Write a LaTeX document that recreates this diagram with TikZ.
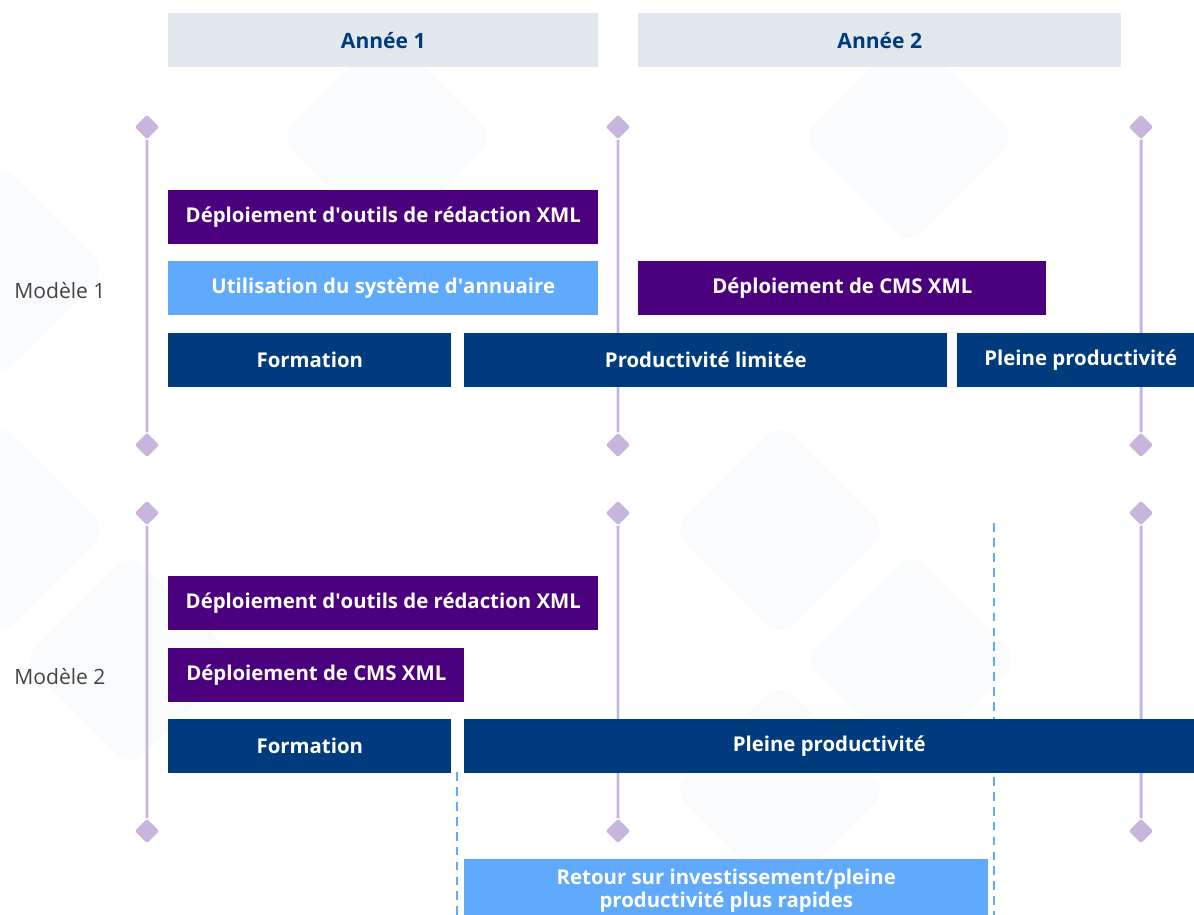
\documentclass[tikz,border=0pt]{standalone}
\usepackage{fontspec}
\setmainfont{Open Sans}

\definecolor{navy}{HTML}{003C7D}
\definecolor{indigo}{HTML}{4B007E}
\definecolor{sky}{HTML}{5FAAFC}
\definecolor{header}{HTML}{E3E8EF}
\definecolor{lilac}{HTML}{C8B4DC}
\definecolor{labelgray}{HTML}{444444}
\definecolor{tilegray}{HTML}{FAFBFD}

\tikzstyle{bar}=[rectangle,
                                    anchor=north west,
                                    inner sep=0pt,
                                    minimum height=1.07cm,
                                    text=white,
                                    font=\bfseries\fontsize{11.6}{14}\selectfont]
\tikzstyle{training}=[bar,
                                    fill=navy]
\tikzstyle{deploy}=[bar,
                                    fill=indigo]
\tikzstyle{usage}=[bar,
                                    fill=sky]
\tikzstyle{year}=[rectangle,
                                    anchor=north west,
                                    inner sep=0pt,
                                    minimum height=1.08cm,
                                    fill=header,
                                    text=navy,
                                    font=\bfseries\fontsize{12}{14}\selectfont]
\tikzstyle{marker}=[rectangle,
                                    rotate=45,
                                    inner sep=0pt,
                                    minimum size=0.34cm,
                                    rounded corners=0.8pt,
                                    fill=lilac]
\tikzstyle{model}=[anchor=west,
                                    inner sep=0pt,
                                    text=labelgray,
                                    font=\fontsize{12}{14}\selectfont]
\tikzstyle{tile}=[rectangle,
                                    rotate=45,
                                    inner sep=0pt,
                                    minimum size=3.06cm,
                                    rounded corners=0.4cm,
                                    fill=tilegray]
\tikzstyle{timeline}=[draw=lilac,
                                    line width=1.7pt]
\tikzstyle{milestone}=[draw=sky,
                                    line width=1.4pt,
                                    dash pattern=on 5pt off 3.5pt]

\begin{document}
\begin{tikzpicture}[x=0.02cm,y=-0.02cm]
  % one unit is one pixel of the original chart, y runs downwards
  \useasboundingbox (0,0) rectangle (1194,915);
  \clip (0,0) rectangle (1194,915);

  % Faint tiles in the background
  \node (tile_1) [tile] at (0,270) {};
  \node (tile_2) [tile] at (0,530) {};
  \node (tile_3) [tile] at (130,660) {};
  \node (tile_4) [tile] at (387,137) {};
  \node (tile_5) [tile] at (909,138) {};
  \node (tile_6) [tile] at (780,530) {};
  \node (tile_7) [tile] at (911,660) {};
  \node (tile_8) [tile] at (780,790) {};

  % Year headers
  \node (Year_1) [year, minimum width=8.6cm] at (168,13) {Année 1};
  \node (Year_2) [year, minimum width=9.66cm] at (638,13) {Année 2};

  % Milestones of the first model
  \node (M1top_0) [marker] at (147,127) {};
  \node (M1top_1) [marker] at (618,127) {};
  \node (M1top_2) [marker] at (1141,127) {};
  \node (M1bot_0) [marker] at (147,445) {};
  \node (M1bot_1) [marker] at (618,445) {};
  \node (M1bot_2) [marker] at (1141,445) {};

  % Milestones of the second model
  \node (M2top_0) [marker] at (147,513) {};
  \node (M2top_1) [marker] at (618,513) {};
  \node (M2top_2) [marker] at (1141,513) {};
  \node (M2bot_0) [marker] at (147,831) {};
  \node (M2bot_1) [marker] at (618,831) {};
  \node (M2bot_2) [marker] at (1141,831) {};

  % Time lines between the milestones
  \path[timeline]
        (M1top_0) edge (M1bot_0)
        (M1top_1) edge (M1bot_1)
        (M1top_2) edge (M1bot_2)
        (M2top_0) edge (M2bot_0)
        (M2top_1) edge (M2bot_1)
        (M2top_2) edge (M2bot_2)
        ;

  % Dashed limits of the return on investment
  \coordinate (ROI_start_top) at (457,772);
  \coordinate (ROI_start_bot) at (457,915);
  \coordinate (ROI_end_top) at (994,523);
  \coordinate (ROI_end_bot) at (994,915);
  \draw[milestone] (ROI_start_top) -- (ROI_start_bot);
  \draw[milestone] (ROI_end_top) -- (ROI_end_bot);

  % Model labels
  \node (Model_1) [model] at (14,291) {Modèle 1};
  \node (Model_2) [model] at (14,677) {Modèle 2};

  % First model
  \node (XMLtools_1) [deploy, minimum width=8.6cm] at (168,190) {Déploiement d\textquotesingle outils de rédaction XML};
  \node (Directory_1) [usage, minimum width=8.6cm] at (168,261) {Utilisation du système d\textquotesingle annuaire};
  \node (CMS_1) [deploy, minimum width=8.16cm] at (638,261) {Déploiement de CMS XML};
  \node (Training_1) [training, minimum width=5.66cm] at (168,333) {Formation};
  \node (Limited_1) [training, minimum width=9.66cm] at (464,333) {Productivité limitée};
  \node (Full_1) [training, minimum width=4.94cm] at (957,333) {Pleine productivité};

  % Second model
  \node (XMLtools_2) [deploy, minimum width=8.6cm] at (168,576) {Déploiement d\textquotesingle outils de rédaction XML};
  \node (CMS_2) [deploy, minimum width=5.92cm] at (168,648) {Déploiement de CMS XML};
  \node (Training_2) [training, minimum width=5.66cm] at (168,719) {Formation};
  \node (Full_2) [training, minimum width=14.6cm] at (464,719) {Pleine productivité};

  % Faster return
  \node (ROI) [usage, minimum width=10.48cm, minimum height=1.24cm, align=center,
        font=\bfseries\fontsize{11.6}{13.2}\selectfont] at (464,859)
        {Retour sur investissement/pleine\\productivité plus rapides};
\end{tikzpicture}
\end{document}
